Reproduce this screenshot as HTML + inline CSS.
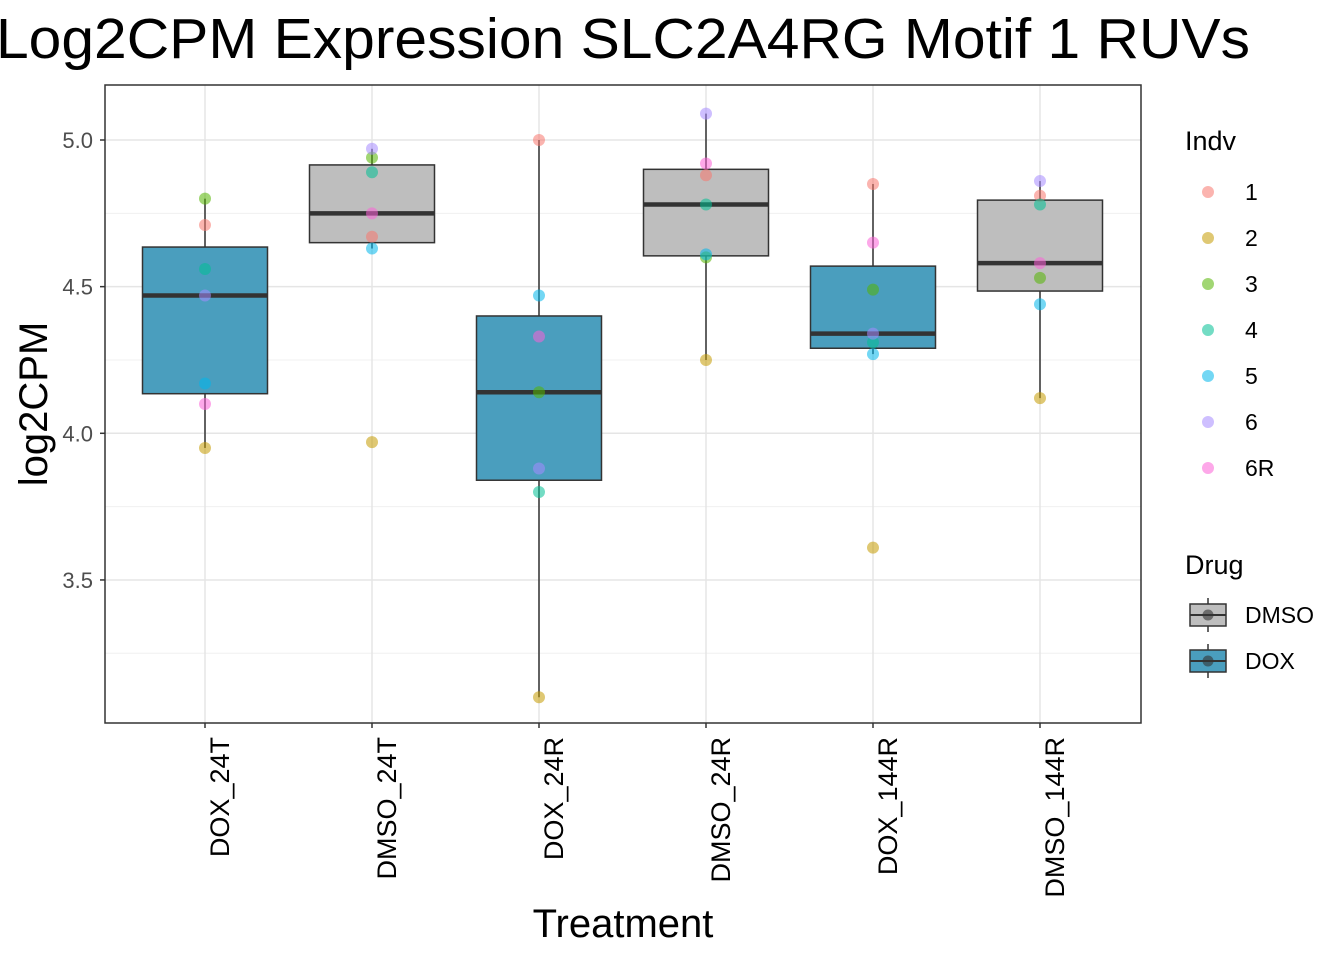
<!DOCTYPE html>
<html><head><meta charset="utf-8"><style>
body{margin:0;background:#fff;}
svg{display:block;font-family:"Liberation Sans",Arial,sans-serif;}
</style></head><body>
<svg id="chart" width="1344" height="960">
<text x="-4" y="58" font-size="57" textLength="1254" lengthAdjust="spacingAndGlyphs" fill="#000">Log2CPM Expression SLC2A4RG Motif 1 RUVs</text>
<g id="grid"></g><g id="boxes"></g><g id="pts"></g><g id="axes"></g><g id="legend"></g>
</svg>
<script>
const categories=["DOX_24T","DMSO_24T","DOX_24R","DMSO_24R","DOX_144R","DMSO_144R"];
const drugs=["DOX","DMSO","DOX","DMSO","DOX","DMSO"];
const indivs=["1","2","3","4","5","6","6R"];
const vals_DOX_24T=[4.71,3.95,4.80,4.56,4.17,4.47,4.10];
const vals_DMSO_24T=[4.67,3.97,4.94,4.89,4.63,4.97,4.75];
const vals_DOX_24R=[5.00,3.10,4.14,3.80,4.47,3.88,4.33];
const vals_DMSO_24R=[4.88,4.25,4.60,4.78,4.61,5.09,4.92];
const vals_DOX_144R=[4.85,3.61,4.49,4.31,4.27,4.34,4.65];
const vals_DMSO_144R=[4.81,4.12,4.53,4.78,4.44,4.86,4.58];
const series=[vals_DOX_24T,vals_DMSO_24T,vals_DOX_24R,vals_DMSO_24R,vals_DOX_144R,vals_DMSO_144R];
const yTicks=[3.5,4.0,4.5,5.0];
const yMinor=[3.25,3.75,4.25,4.75];
const indColors=["#F8766D","#C49A00","#53B400","#00C094","#00B6EB","#A58AFF","#FB61D7"];
const drugColors={DMSO:"#BEBEBE",DOX:"#4A9EBE"};
const NS="http://www.w3.org/2000/svg";
const P={l:105,r:1141,t:85,b:723};
const y=v=>140+(5.0-v)*293.3;
const x=i=>205+i*167;
function mk(tag,attrs,parent,txt){const e=document.createElementNS(NS,tag);for(const k in attrs)e.setAttribute(k,attrs[k]);if(txt!=null)e.textContent=txt;parent.appendChild(e);return e;}
const G=document.getElementById('grid'),B=document.getElementById('boxes'),PT=document.getElementById('pts'),A=document.getElementById('axes'),L=document.getElementById('legend');
let bg=mk('rect',{x:P.l,y:P.t,width:P.r-P.l,height:P.b-P.t,fill:'#fff'},G);


yMinor.forEach(v=>{let l=mk('line',{x1:P.l,x2:P.r,y1:y(v),y2:y(v),stroke:'#f0f0f0','stroke-width':1},G);

});
yTicks.forEach(v=>{let l=mk('line',{x1:P.l,x2:P.r,y1:y(v),y2:y(v),stroke:'#e5e5e5','stroke-width':1.5},G);

});
categories.forEach((c,i)=>{let l=mk('line',{x1:x(i),x2:x(i),y1:P.t,y2:P.b,stroke:'#e5e5e5','stroke-width':1.5},G);

});
function q(s,p){const h=(s.length-1)*p,lo=Math.floor(h),hi=Math.ceil(h);return s[lo]+(s[hi]-s[lo])*(h-lo);}
series.forEach((vals,i)=>{
 const s=[...vals].sort((a,b)=>a-b);
 const q1=q(s,.25),med=q(s,.5),q3=q(s,.75),iqr=q3-q1;
 const lo=Math.min(...s.filter(v=>v>=q1-1.5*iqr)),hi=Math.max(...s.filter(v=>v<=q3+1.5*iqr));
 const g=mk('g',{},B);
 
 
 mk('line',{x1:x(i),x2:x(i),y1:y(hi),y2:y(q3),stroke:'#333','stroke-width':1.5},g);
 mk('line',{x1:x(i),x2:x(i),y1:y(q1),y2:y(lo),stroke:'#333','stroke-width':1.5},g);
 mk('rect',{x:x(i)-62.5,y:y(q3),width:125,height:y(q1)-y(q3),fill:drugColors[drugs[i]],stroke:'#333','stroke-width':1.5},g);
 mk('line',{x1:x(i)-62.5,x2:x(i)+62.5,y1:y(med),y2:y(med),stroke:'#333','stroke-width':4.5},g);
 vals.forEach((v,j)=>{let c=mk('circle',{cx:x(i),cy:y(v),r:6,fill:indColors[j],'fill-opacity':0.55},PT);
 
 });
});
mk('rect',{x:P.l,y:P.t,width:P.r-P.l,height:P.b-P.t,fill:'none',stroke:'#333','stroke-width':1.5},A);
yTicks.forEach(v=>{mk('line',{x1:P.l-5,x2:P.l,y1:y(v),y2:y(v),stroke:'#333','stroke-width':1.5},A);
 let t=mk('text',{x:P.l-12,y:y(v)+8,'text-anchor':'end','font-size':22,fill:'#4d4d4d'},A,v.toFixed(1));
 
 });
categories.forEach((c,i)=>{mk('line',{x1:x(i),x2:x(i),y1:P.b,y2:P.b+5,stroke:'#333','stroke-width':1.5},A);
 let t=mk('text',{x:0,y:0,'text-anchor':'end','font-size':27,fill:'#000',transform:`translate(${x(i)+24},${P.b+14}) rotate(-90)`},A,c);
 
 });
let xt=mk('text',{x:623,y:937,'text-anchor':'middle','font-size':40,fill:'#000'},A,'Treatment');


let yt=mk('text',{x:0,y:0,'text-anchor':'middle','font-size':40,fill:'#000',transform:'translate(47,404) rotate(-90)'},A,'log2CPM');


let lt=mk('text',{x:1185,y:150,'font-size':27,fill:'#000'},L,'Indv');


indivs.forEach((n,j)=>{const yy=192+j*46;
 let c=mk('circle',{cx:1208,cy:yy,r:6,fill:indColors[j],'fill-opacity':0.55},L);
 
 
 let t=mk('text',{x:1245,y:yy+8,'font-size':23,fill:'#000'},L,n);
 
 });
let dt=mk('text',{x:1185,y:574,'font-size':27,fill:'#000'},L,'Drug');


["DMSO","DOX"].forEach((d,j)=>{const yy=615+j*46;
 const g=mk('g',{},L);
 
 
 mk('line',{x1:1208,x2:1208,y1:yy-17,y2:yy+17,stroke:'#333','stroke-width':1.5},g);
 mk('rect',{x:1190,y:yy-11,width:36,height:22,fill:drugColors[d],stroke:'#333','stroke-width':1.5},g);
 mk('line',{x1:1190,x2:1226,y1:yy,y2:yy,stroke:'#333','stroke-width':2},g);
 mk('circle',{cx:1208,cy:yy,r:5.5,fill:'#333','fill-opacity':0.6},g);
 let t=mk('text',{x:1245,y:yy+8,'font-size':23,fill:'#000'},L,d);
 
 });
</script>
</body></html>
